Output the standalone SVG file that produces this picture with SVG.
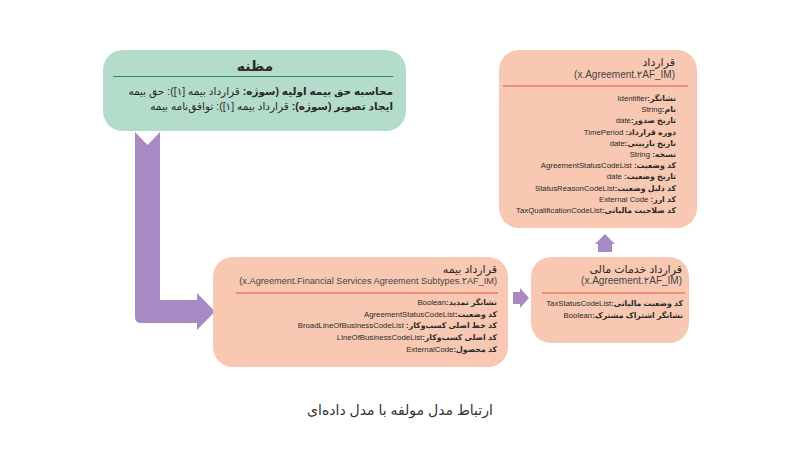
<svg xmlns="http://www.w3.org/2000/svg" width="800" height="458" viewBox="0 0 800 458">
<style>
text{font-family:"Liberation Sans","DejaVu Sans",sans-serif;fill:#2a2a2a}
.rtl{direction:rtl;text-anchor:start;unicode-bidi:embed}
.ltr{direction:ltr;text-anchor:end}
.peach{fill:#f9c8b2}
.mint{fill:#b3dcca}
.red{stroke:#e4553a;stroke-width:1.2}
.arrow{fill:#a78ac3}
.row{font-size:7.8px}
.b{font-weight:bold}
.ttl{font-size:11px}
.sub{font-size:10px;fill:#444}
</style>
<rect width="800" height="458" fill="#ffffff"/>
<g id="connectors">
<path class="arrow" d="M135,132 L147.5,145 L160,132 L160,300 L197,300 L197,293 L215,311.5 L197,330 L197,323 L141,323 Q135,323 135,317 Z"/>
<path class="arrow" d="M513,292 L520,292 L520,288 L529,298 L520,308 L520,304 L513,304 Z"/>
<path class="arrow" d="M598,252 L598,244 L595,244 L605,234 L615,244 L612,244 L612,252 Z"/>
</g>
<g id="node-mazane">
<rect class="mint" x="103" y="50" width="303" height="81" rx="20"/>
<text x="255" y="71" font-size="14" font-weight="bold" text-anchor="middle">مظنه</text>
<line x1="113" y1="76.5" x2="393" y2="76.5" stroke="#2e8a5c" stroke-width="1.2"/>
<text class="rtl" x="393" y="95" font-size="10.5"><tspan class="b">محاسبه حق بیمه اولیه (سوژه:</tspan> قرارداد بیمه [۱]): حق بیمه</text>
<text class="rtl" x="393" y="110" font-size="10.5"><tspan class="b">ایجاد تصویر (سوژه):</tspan> قرارداد بیمه [۱]): توافق‌نامه بیمه</text>
</g>
<g id="node-agreement">
<rect class="peach" x="499" y="50" width="198" height="178" rx="20"/>
<text class="rtl ttl" x="675" y="66">قرارداد</text>
<text class="ltr sub" x="675" y="78">(x.Agreement.۲AF_IM)</text>
<line class="red" x1="503" y1="86" x2="688" y2="86"/>
<text class="rtl row" x="676" y="101"><tspan class="b">نشانگر:</tspan>Identifier</text>
<text class="rtl row" x="676" y="112.2"><tspan class="b">نام:</tspan>String</text>
<text class="rtl row" x="676" y="123.4"><tspan class="b">تاریخ صدور:</tspan>date</text>
<text class="rtl row" x="676" y="134.6"><tspan class="b">دوره قرارداد:</tspan> TimePeriod</text>
<text class="rtl row" x="676" y="145.8"><tspan class="b">تاریخ بازبینی:</tspan>date</text>
<text class="rtl row" x="676" y="157"><tspan class="b">نسخه:</tspan> String</text>
<text class="rtl row" x="676" y="168.2"><tspan class="b">کد وضعیت:</tspan> AgreementStatusCodeList</text>
<text class="rtl row" x="676" y="179.4"><tspan class="b">تاریخ وضعیت:</tspan> date</text>
<text class="rtl row" x="676" y="190.6"><tspan class="b">کد دلیل وضعیت:</tspan>StatusReasonCodeList</text>
<text class="rtl row" x="676" y="201.8"><tspan class="b">کد ارز:</tspan> External Code</text>
<text class="rtl row" x="676" y="213"><tspan class="b">کد صلاحیت مالیاتی:</tspan>TaxQualificationCodeList</text>
</g>
<g id="node-insurance">
<rect class="peach" x="213" y="257" width="295" height="110" rx="20"/>
<text class="rtl ttl" x="497" y="273">قرارداد بیمه</text>
<text class="ltr sub" x="497" y="284" style="font-size:9.2px">(x.Agreement.Financial Services Agreement Subtypes.۲AF_IM)</text>
<line class="red" x1="236" y1="293" x2="498" y2="293"/>
<text class="rtl row" x="497" y="305"><tspan class="b">نشانگر تمدید:</tspan>Boolean</text>
<text class="rtl row" x="497" y="316.7"><tspan class="b">کد وضعیت:</tspan>AgreementStatusCodeList</text>
<text class="rtl row" x="497" y="328.4"><tspan class="b">کد خط اصلی کسب‌وکار:</tspan> BroadLineOfBusinessCodeList</text>
<text class="rtl row" x="497" y="340"><tspan class="b">کد اصلی کسب‌وکار:</tspan>LineOfBusinessCodeList</text>
<text class="rtl row" x="497" y="351.7"><tspan class="b">کد محصول:</tspan>ExternalCode</text>
</g>
<g id="node-financial">
<rect class="peach" x="531" y="257" width="158" height="86" rx="20"/>
<text class="rtl ttl" x="682" y="273">قرارداد خدمات مالی</text>
<text class="ltr sub" x="682" y="284">(x.Agreement.۲AF_IM)</text>
<line class="red" x1="542" y1="293" x2="685" y2="293"/>
<text class="rtl row" x="683" y="306"><tspan class="b">کد وضعیت مالیاتی:</tspan>TaxStatusCodeList</text>
<text class="rtl row" x="683" y="317.5"><tspan class="b">نشانگر اشتراک مشترک:</tspan>Boolean</text>
</g>
<text x="400" y="415" font-size="14" text-anchor="middle" style="fill:#333">ارتباط مدل مولفه با مدل داده‌ای</text>
</svg>
